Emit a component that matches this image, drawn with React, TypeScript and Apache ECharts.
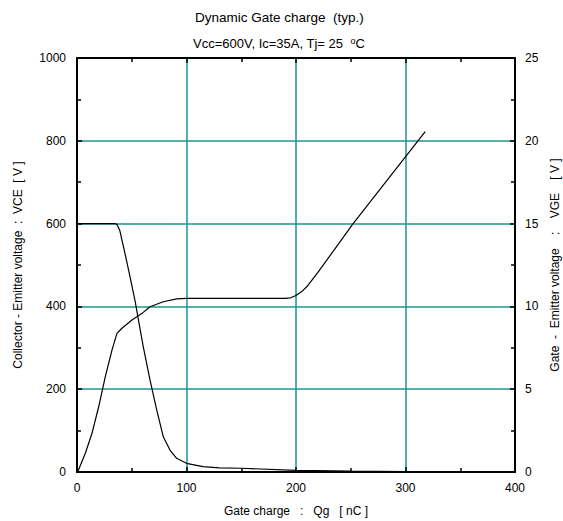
import React, { useEffect, useRef } from "react";
import * as echarts from "echarts";

const titleLine1 = "Dynamic Gate charge  (typ.)";
const titleLine2 = "Vcc=600V, Ic=35A, Tj= 25  {sup|o}C";
const xName = "Gate charge   :   Qg   [ nC ]";
const yLeftName = "Collector - Emitter voltage  :  VCE  [ V ]";
const yRightName = "Gate  -  Emitter voltage    :    VGE    [ V ]";

// Gate charge (nC) vs VCE (V)
const vceQg = [0, 34.7, 36.5, 39, 43.8, 48.4, 53.3, 54.5, 60.5, 66.7, 72.8, 78.8, 84.9, 91, 100, 115, 130, 150, 200, 250, 300, 320];
const vceVal = [600, 600, 598, 584, 528, 472, 410, 391, 303, 222, 150, 85, 53, 33, 21, 13, 10, 9, 4, 2, 1, 0.8];

// Gate charge (nC) vs VGE (V)
const vgeQg = [0, 0.9, 7.6, 13.7, 19.8, 25.8, 32, 36.5, 41, 50.2, 59.4, 66.7, 78.8, 91, 100, 150, 190, 195, 200, 205, 210, 220, 252, 318];
const vgeVal = [0, 0.05, 1.13, 2.34, 3.94, 5.75, 7.37, 8.37, 8.68, 9.18, 9.58, 9.98, 10.28, 10.45, 10.48, 10.48, 10.48, 10.52, 10.66, 10.88, 11.2, 12.05, 14.98, 20.55];

const FONT = "'Liberation Sans', Arial, sans-serif";

export default function App() {
  const ref = useRef<HTMLDivElement>(null);
  useEffect(() => {
    if (!ref.current) return;
    const chart = echarts.init(ref.current, null, { renderer: "svg" });
    const axisLine = () => ({ show: true, onZero: false, lineStyle: { color: "#000", width: 2 } });
    const tick = () => ({ show: true, inside: true, length: 5, lineStyle: { color: "#000", width: 1.5 } });
    const minor = () => ({ show: true, splitNumber: 2, length: 4, lineStyle: { color: "#000", width: 1.5 } });
    const label = (margin: number) => ({ color: "#000", fontSize: 12, fontFamily: FONT, margin, formatter: (v: number) => String(v) });
    const gridLine = () => ({ show: true, lineStyle: { color: "#1a9393", width: 1.5, opacity: 1 } });
    const nameStyle = () => ({ color: "#000", fontSize: 12, fontFamily: FONT });
    chart.setOption({
      animation: false,
      textStyle: { fontFamily: FONT },
      title: [
        { text: titleLine1, left: 190, top: 5, textStyle: { fontSize: 13.5, fontWeight: "normal", color: "#000", fontFamily: FONT } },
        {
          text: titleLine2,
          left: 188,
          top: 31,
          textStyle: {
            fontSize: 13, fontWeight: "normal", color: "#000", fontFamily: FONT,
            rich: { sup: { fontSize: 9, verticalAlign: "top", padding: [0, 0, 6, 0], color: "#000", fontFamily: FONT } },
          },
        },
      ],
      grid: { left: 77, right: 48, top: 58, bottom: 49, containLabel: false, outerBoundsMode: "none" },
      xAxis: [
        {
          type: "value", min: 0, max: 400, interval: 100, position: "bottom",
          name: xName, nameLocation: "middle", nameGap: 33, nameTextStyle: nameStyle(),
          axisLine: axisLine(), axisTick: tick(), minorTick: minor(), axisLabel: label(10),
          splitLine: gridLine(),
        },
        {
          type: "value", min: 0, max: 400, interval: 100, position: "top",
          axisLine: axisLine(), axisTick: tick(), minorTick: minor(), axisLabel: { show: false }, splitLine: { show: false },
        },
      ],
      yAxis: [
        {
          type: "value", min: 0, max: 1000, interval: 200, position: "left",
          name: yLeftName, nameLocation: "middle", nameGap: 53, nameRotate: 90, nameTextStyle: nameStyle(),
          axisLine: axisLine(), axisTick: tick(), minorTick: minor(), axisLabel: label(11),
          splitLine: gridLine(),
        },
        {
          type: "value", min: 0, max: 25, interval: 5, position: "right",
          name: yRightName, nameLocation: "middle", nameGap: 30, nameRotate: 90, nameTextStyle: nameStyle(),
          axisLine: axisLine(), axisTick: tick(), minorTick: minor(), axisLabel: label(10),
          splitLine: { show: false },
        },
      ],
      series: [
        {
          type: "line", name: "VCE", xAxisIndex: 0, yAxisIndex: 0,
          data: vceQg.map((q, i) => [q, vceVal[i]]),
          showSymbol: false, symbol: "none", smooth: false,
          lineStyle: { color: "#000", width: 1.2 },
        },
        {
          type: "line", name: "VGE", xAxisIndex: 0, yAxisIndex: 1,
          data: vgeQg.map((q, i) => [q, vgeVal[i]]),
          showSymbol: false, symbol: "none", smooth: false,
          lineStyle: { color: "#000", width: 1.2 },
        },
      ],
    });
    return () => chart.dispose();
  }, []);
  return <div ref={ref} style={{ position: "fixed", left: 0, top: 0, width: 563, height: 521, background: "#fff" }} />;
}
